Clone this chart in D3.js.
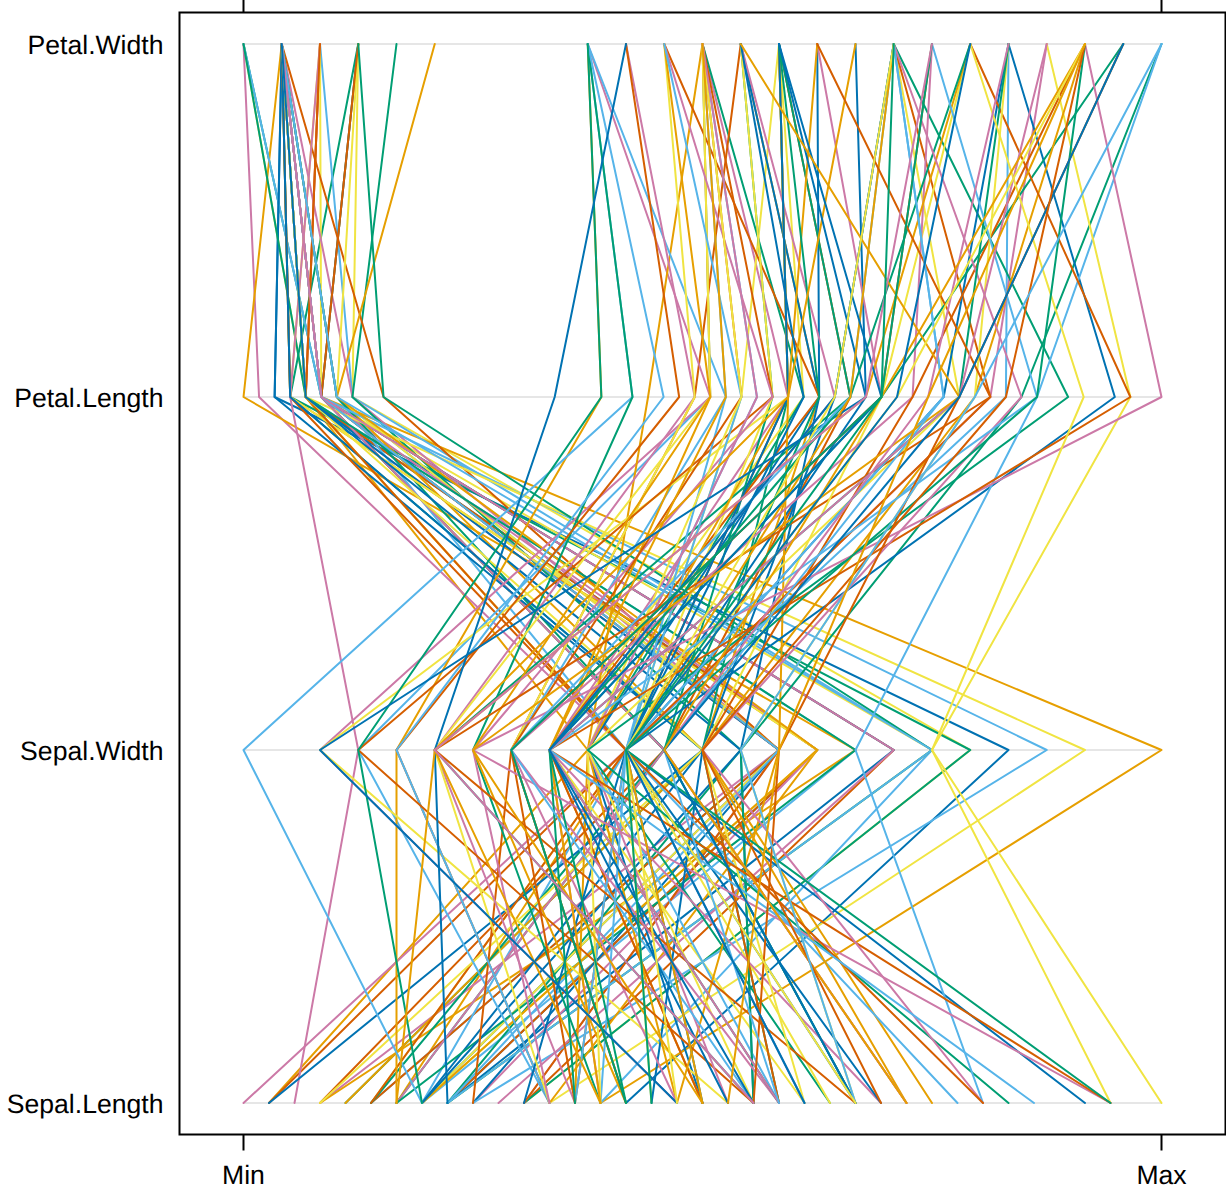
<!DOCTYPE html>
<html><head><meta charset="utf-8">
<script src="https://cdn.jsdelivr.net/npm/d3@7"></script>
<style>html,body{margin:0;padding:0;background:#fff}svg{display:block}text{font-family:"Liberation Sans",Arial,sans-serif;fill:#000;text-rendering:geometricPrecision}</style>
</head><body><div id="chart"></div>
<script>
const variables = ["Sepal.Length","Sepal.Width","Petal.Length","Petal.Width"];
const sepalLength = [5.1,4.9,4.7,4.6,5.0,5.4,4.6,5.0,4.4,4.9,5.4,4.8,4.8,4.3,5.8,5.7,5.4,5.1,5.7,5.1,5.4,5.1,4.6,5.1,4.8,5.0,5.0,5.2,5.2,4.7,4.8,5.4,5.2,5.5,4.9,5.0,5.5,4.9,4.4,5.1,5.0,4.5,4.4,5.0,5.1,4.8,5.1,4.6,5.3,5.0,
7.0,6.4,6.9,5.5,6.5,5.7,6.3,4.9,6.6,5.2,5.0,5.9,6.0,6.1,5.6,6.7,5.6,5.8,6.2,5.6,5.9,6.1,6.3,6.1,6.4,6.6,6.8,6.7,6.0,5.7,5.5,5.5,5.8,6.0,5.4,6.0,6.7,6.3,5.6,5.5,5.5,6.1,5.8,5.0,5.6,5.7,5.7,6.2,5.1,5.7,
6.3,5.8,7.1,6.3,6.5,7.6,4.9,7.3,6.7,7.2,6.5,6.4,6.8,5.7,5.8,6.4,6.5,7.7,7.7,6.0,6.9,5.6,7.7,6.3,6.7,7.2,6.2,6.1,6.4,7.2,7.4,7.9,6.4,6.3,6.1,7.7,6.3,6.4,6.0,6.9,6.7,6.9,5.8,6.8,6.7,6.7,6.3,6.5,6.2,5.9];
const sepalWidth = [3.5,3.0,3.2,3.1,3.6,3.9,3.4,3.4,2.9,3.1,3.7,3.4,3.0,3.0,4.0,4.4,3.9,3.5,3.8,3.8,3.4,3.7,3.6,3.3,3.4,3.0,3.4,3.5,3.4,3.2,3.1,3.4,4.1,4.2,3.1,3.2,3.5,3.6,3.0,3.4,3.5,2.3,3.2,3.5,3.8,3.0,3.8,3.2,3.7,3.3,
3.2,3.2,3.1,2.3,2.8,2.8,3.3,2.4,2.9,2.7,2.0,3.0,2.2,2.9,2.9,3.1,3.0,2.7,2.2,2.5,3.2,2.8,2.5,2.8,2.9,3.0,2.8,3.0,2.9,2.6,2.4,2.4,2.7,2.7,3.0,3.4,3.1,2.3,3.0,2.5,2.6,3.0,2.6,2.3,2.7,3.0,2.9,2.9,2.5,2.8,
3.3,2.7,3.0,2.9,3.0,3.0,2.5,2.9,2.5,3.6,3.2,2.7,3.0,2.5,2.8,3.2,3.0,3.8,2.6,2.2,3.2,2.8,2.8,2.7,3.3,3.2,2.8,3.0,2.8,3.0,2.8,3.8,2.8,2.8,2.6,3.0,3.4,3.1,3.0,3.1,3.1,3.1,2.7,3.2,3.3,3.0,2.5,3.0,3.4,3.0];
const petalLength = [1.4,1.4,1.3,1.5,1.4,1.7,1.4,1.5,1.4,1.5,1.5,1.6,1.4,1.1,1.2,1.5,1.3,1.4,1.7,1.5,1.7,1.5,1.0,1.7,1.9,1.6,1.6,1.5,1.4,1.6,1.6,1.5,1.5,1.4,1.5,1.2,1.3,1.4,1.3,1.5,1.3,1.3,1.3,1.6,1.9,1.4,1.6,1.4,1.5,1.4,
4.7,4.5,4.9,4.0,4.6,4.5,4.7,3.3,4.6,3.9,3.5,4.2,4.0,4.7,3.6,4.4,4.5,4.1,4.5,3.9,4.8,4.0,4.9,4.7,4.3,4.4,4.8,5.0,4.5,3.5,3.8,3.7,3.9,5.1,4.5,4.5,4.7,4.4,4.1,4.0,4.4,4.6,4.0,3.3,4.2,4.2,4.2,4.3,3.0,4.1,
6.0,5.1,5.9,5.6,5.8,6.6,4.5,6.3,5.8,6.1,5.1,5.3,5.5,5.0,5.1,5.3,5.5,6.7,6.9,5.0,5.7,4.9,6.7,4.9,5.7,6.0,4.8,4.9,5.6,5.8,6.1,6.4,5.6,5.1,5.6,6.1,5.6,5.5,4.8,5.4,5.6,5.1,5.1,5.9,5.7,5.2,5.0,5.2,5.4,5.1];
const petalWidth = [0.2,0.2,0.2,0.2,0.2,0.4,0.3,0.2,0.2,0.1,0.2,0.2,0.1,0.1,0.2,0.4,0.4,0.3,0.3,0.3,0.2,0.4,0.2,0.5,0.2,0.2,0.4,0.2,0.2,0.2,0.2,0.4,0.1,0.2,0.2,0.2,0.2,0.1,0.2,0.2,0.3,0.3,0.2,0.6,0.4,0.3,0.2,0.2,0.2,0.2,
1.4,1.5,1.5,1.3,1.5,1.3,1.6,1.0,1.3,1.4,1.0,1.5,1.0,1.4,1.3,1.4,1.5,1.0,1.5,1.1,1.8,1.3,1.5,1.2,1.3,1.4,1.4,1.7,1.5,1.0,1.1,1.0,1.2,1.6,1.5,1.6,1.5,1.3,1.3,1.3,1.2,1.4,1.2,1.0,1.3,1.2,1.3,1.3,1.1,1.3,
2.5,1.9,2.1,1.8,2.2,2.1,1.7,1.8,1.8,2.5,2.0,1.9,2.1,2.0,2.4,2.3,1.8,2.2,2.3,1.5,2.3,2.0,2.0,1.8,2.1,1.8,1.8,1.8,2.1,1.6,1.9,2.0,2.2,1.5,1.4,2.3,2.4,1.8,1.8,2.1,2.4,2.3,1.9,2.3,2.5,2.3,1.9,2.0,2.3,1.8];
const palette = ["#0072B2","#E69F00","#009E73","#D55E00","#56B4E9","#F0E442","#CC79A7"];
const xTickLabels = ["Min","Max"];

const columns = [sepalLength, sepalWidth, petalLength, petalWidth];
const W = 1226, H = 1189;
const panel = {l:179.5, r:1225.5, t:12.5, b:1134.5};
const svg = d3.select("#chart").append("svg").attr("width",W).attr("height",H);

const x = d3.scaleLinear().domain([0,1]).range([243.5,1161.5]);
const y = d3.scalePoint().domain(variables).range([1103,44]);
const norm = columns.map(c => d3.scaleLinear().domain(d3.extent(c)).range([0,1]));

const lineGen = d3.line().x(d => x(d.v)).y(d => y(d.k));

svg.append("g").selectAll("line").data(variables).join("line")
  .attr("x1",x(0)).attr("x2",x(1)).attr("y1",d=>y(d)).attr("y2",d=>y(d))
  .attr("stroke","#e6e6e6").attr("stroke-width",2);

svg.append("g").attr("fill","none").attr("stroke-width",2).attr("stroke-linejoin","round").attr("stroke-linecap","round")
  .selectAll("path").data(d3.range(sepalLength.length)).join("path")
  .attr("stroke",i=>palette[i%palette.length])
  .attr("d",i=>lineGen(variables.map((k,j)=>({k,v:norm[j](columns[j][i])}))));

svg.append("rect").attr("x",panel.l).attr("y",panel.t).attr("width",panel.r-panel.l).attr("height",panel.b-panel.t)
  .attr("fill","none").attr("stroke","#000").attr("stroke-width",2);

const ticks = svg.append("g").attr("stroke","#000").attr("stroke-width",2);
ticks.selectAll("line.b").data([0,1]).join("line").attr("class","b")
  .attr("x1",d=>x(d)).attr("x2",d=>x(d)).attr("y1",panel.b).attr("y2",panel.b+16);
ticks.selectAll("line.t").data([0,1]).join("line").attr("class","t")
  .attr("x1",d=>x(d)).attr("x2",d=>x(d)).attr("y1",panel.t).attr("y2",panel.t-13);

svg.append("g").selectAll("text").data([0,1]).join("text")
  .attr("x",d=>x(d)).attr("y",1184).attr("text-anchor","middle").attr("font-size",26.6).text(d=>xTickLabels[d]);

svg.append("g").selectAll("text").data(variables).join("text")
  .attr("x",163.5).attr("y",d=>y(d)+9.5).attr("text-anchor","end").attr("font-size",26.6).text(d=>d);
</script></body></html>
